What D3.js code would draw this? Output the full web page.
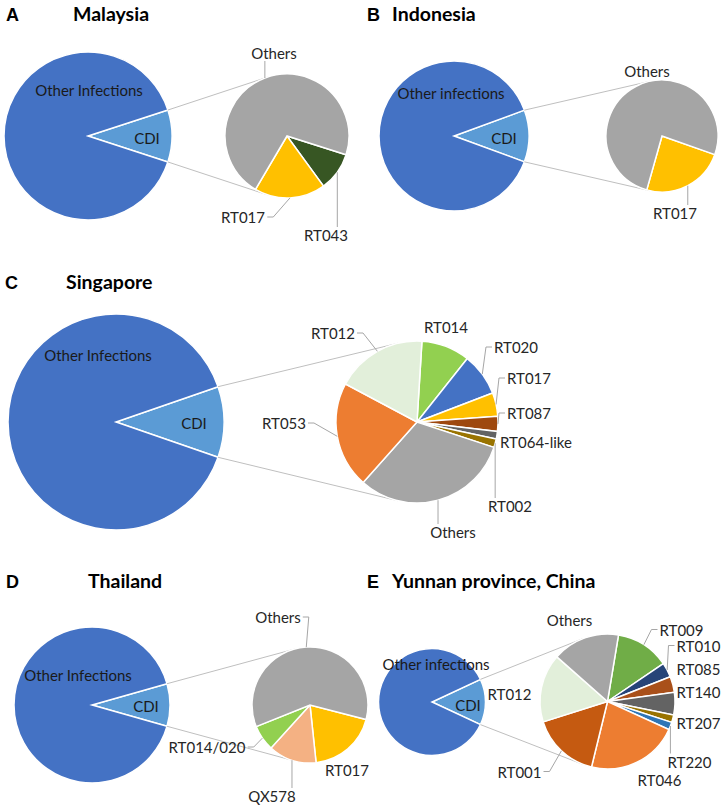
<!DOCTYPE html>
<html><head><meta charset="utf-8">
<script src="https://cdn.jsdelivr.net/npm/d3@7"></script>
<style>body{margin:0;background:#fff} svg{display:block}</style>
</head><body>
<script>
// ---------------- DATA ----------------
const panelLetters = ["A", "B", "C", "D", "E"];
const panelTitles = ["Malaysia", "Indonesia", "Singapore", "Thailand", "Yunnan province, China"];
const otherLabels = ["Other Infections", "Other infections", "Other Infections", "Other Infections", "Other infections"];

// main pie: [CDI share, other infections share] (%)
const malaysiaMain = [10.0, 90.0];
const indonesiaMain = [11.2, 88.8];
const singaporeMain = [10.6, 89.4];
const thailandMain = [8.8, 91.2];
const yunnanMain = [13.9, 86.1];

// ribotype breakdown of CDI (%), clockwise order
const malaysiaTypes = ["RT043", "RT017", "Others"];
const malaysiaValues = [10.1, 18.5, 71.4];
const indonesiaTypes = ["RT017", "Others"];
const indonesiaValues = [24.0, 76.0];
const singaporeTypes = ["RT014", "RT020", "RT017", "RT087", "RT064-like", "RT002", "Others", "RT053", "RT012"];
const singaporeValues = [9.7, 8.5, 4.7, 3.0, 1.5, 1.7, 31.5, 21.2, 18.2];
const thailandTypes = ["RT017", "QX578", "RT014/020", "Others"];
const thailandValues = [19.3, 13.4, 7.2, 60.1];
const yunnanTypes = ["RT009", "RT010", "RT085", "RT140", "RT207", "RT220", "RT046", "RT001", "RT012", "Others"];
const yunnanValues = [12.9, 3.5, 3.8, 5.4, 1.8, 1.8, 22.0, 16.3, 16.4, 16.1];

// ---------------- STYLES ----------------
const mainColors = {CDI: "#5B9BD5", Other: "#4472C4"};
const typeColors = {
  "Others": "#A5A5A5", "RT017": "#FFC000", "RT043": "#375623",
  "RT014": "#92D050", "RT020": "#4472C4", "RT087": "#9E480E", "RT064-like": "#636363",
  "RT002": "#997300", "RT053": "#ED7D31", "RT012": "#E2EFDA",
  "QX578": "#F4B183", "RT014/020": "#92D050",
  "RT009": "#70AD47", "RT010": "#264478", "RT085": "#A9501A", "RT140": "#636363",
  "RT207": "#997300", "RT220": "#2E75B6", "RT046": "#ED7D31", "RT001": "#C55A11"
};

// ---------------- LAYOUT ----------------
const layout = [
  {letterX: 6, titleX: 73, baseY: 20.5, main: [88, 136, 84], sec: [287, 136, 62], rot: 107.6,
   otherLab: [1, -46], cdiLab: [59, 2], lead: [],
   secLab: [[39, 99], [-44, 81], [-13, -83]]},
  {letterX: 367, titleX: 392, baseY: 20.5, main: [454, 136, 75], sec: [662, 136, 56], rot: 109.4,
   otherLab: [-3, -43], cdiLab: [50, 2], lead: [],
   secLab: [[13, 77], [-15, -65]]},
  {letterX: 5, titleX: 66, baseY: 289, main: [116, 422, 108], sec: [417, 422, 81], rot: 3.5,
   otherLab: [-18, -67], cdiLab: [78, 1], lead: [3],
   secLab: [[29, -95], [99, -75], [112, -44], [112, -9], [119, 20], [93, 84], [36, 110], [-133, 1], [-84, -89]]},
  {letterX: 6, titleX: 88, baseY: 588, main: [92, 705, 78], sec: [310, 705, 58], rot: 104.5,
   otherLab: [-14, -30], cdiLab: [54, 1], lead: [],
   secLab: [[37, 65], [-38, 91], [-103, 42], [-32, -88]]},
  {letterX: 367, titleX: 392, baseY: 588, main: [432, 702, 53.5], sec: [607.5, 701.5, 67.5], rot: 9.4,
   otherLab: [4, -38], cdiLab: [36, 3], lead: [],
   secLab: [[74, -72], [91, -56], [91, -33], [91, -10], [91, 21], [82, 60], [52, 78], [-88, 70], [-98, -8], [-38, -82]]}
];

const mains = [malaysiaMain, indonesiaMain, singaporeMain, thailandMain, yunnanMain];
const typeNames = [malaysiaTypes, indonesiaTypes, singaporeTypes, thailandTypes, yunnanTypes];
const typeValues = [malaysiaValues, indonesiaValues, singaporeValues, thailandValues, yunnanValues];

const W = 725, H = 805;
const labelFont = "Lato, 'Open Sans', sans-serif";
const labelSize = 15;
const svg = d3.select("body").append("svg").attr("width", W).attr("height", H)
  .style("background", "#fff");

function tangent(P, C, r, side) {
  const dx = C[0] - P[0], dy = C[1] - P[1];
  const d = Math.hypot(dx, dy);
  const base = Math.atan2(dy, dx);
  const alpha = Math.asin(r / d);
  const L = Math.sqrt(d * d - r * r);
  const dir = base + side * alpha;
  return [P[0] + L * Math.cos(dir), P[1] + L * Math.sin(dir)];
}
const polar = (cx, cy, r, a) => [cx + r * Math.sin(a), cy - r * Math.cos(a)];

layout.forEach((L, i) => {
  const g = svg.append("g");
  // titles
  g.append("text").attr("x", L.letterX).attr("y", L.baseY)
    .attr("font-family", "'Liberation Sans', Arial, sans-serif").attr("font-weight", "bold")
    .attr("font-size", 18).attr("fill", "#000").text(panelLetters[i]);
  g.append("text").attr("x", L.titleX).attr("y", L.baseY)
    .attr("font-family", labelFont).attr("font-weight", "bold")
    .attr("font-size", 19.5).attr("fill", "#000").text(panelTitles[i]);

  // main pie
  const [mcx, mcy, mr] = L.main;
  const share = mains[i][0] / d3.sum(mains[i]);
  const start = Math.PI / 2 - Math.PI * share;
  const mainData = [{k: "CDI", v: mains[i][0]}, {k: "Other", v: mains[i][1]}];
  const mainPie = d3.pie().sort(null).value(d => d.v).startAngle(start).endAngle(start + 2 * Math.PI);
  const mainArc = d3.arc().innerRadius(0).outerRadius(mr);
  const mainArcs = mainPie(mainData);
  g.append("g").attr("transform", `translate(${mcx},${mcy})`)
    .selectAll("path").data(mainArcs).join("path")
    .attr("d", mainArc).attr("fill", d => mainColors[d.data.k])
    .attr("stroke", "#fff").attr("stroke-width", 1.5);

  // connectors
  const [scx, scy, sr] = L.sec;
  const cdi = mainArcs[0];
  const pUp = polar(mcx, mcy, mr, cdi.startAngle);
  const pDn = polar(mcx, mcy, mr, cdi.endAngle);
  const tUp = tangent(pUp, [scx, scy], sr, -1);
  const tDn = tangent(pDn, [scx, scy], sr, 1);
  [[pUp, tUp], [pDn, tDn]].forEach(([a, b]) => {
    g.append("line").attr("x1", a[0]).attr("y1", a[1]).attr("x2", b[0]).attr("y2", b[1])
      .attr("stroke", "#BFBFBF").attr("stroke-width", 1);
  });

  // main labels
  g.append("text").attr("x", mcx + L.otherLab[0]).attr("y", mcy + L.otherLab[1])
    .attr("text-anchor", "middle").attr("dominant-baseline", "central")
    .attr("font-family", labelFont).attr("font-size", labelSize).attr("fill", "#1a1a1a").text(otherLabels[i]);
  g.append("text").attr("x", mcx + L.cdiLab[0]).attr("y", mcy + L.cdiLab[1])
    .attr("text-anchor", "middle").attr("dominant-baseline", "central")
    .attr("font-family", labelFont).attr("font-size", labelSize).attr("fill", "#1a1a1a").text("CDI");

  // secondary pie
  const rot = L.rot * Math.PI / 180;
  const secData = typeNames[i].map((n, j) => ({k: n, v: typeValues[i][j]}));
  const secPie = d3.pie().sort(null).value(d => d.v).startAngle(rot).endAngle(rot + 2 * Math.PI);
  const secArc = d3.arc().innerRadius(0).outerRadius(sr);
  const secArcs = secPie(secData);
  g.append("g").attr("transform", `translate(${scx},${scy})`)
    .selectAll("path").data(secArcs).join("path")
    .attr("d", secArc).attr("fill", d => typeColors[d.data.k])
    .attr("stroke", "#fff").attr("stroke-width", 1.5);

  // secondary labels + leaders
  const lg = g.append("g");
  secArcs.forEach((a, j) => {
    const off = L.secLab[j];
    const t = lg.append("text").attr("x", scx + off[0]).attr("y", scy + off[1])
      .attr("text-anchor", "middle").attr("dominant-baseline", "central")
      .attr("font-family", labelFont).attr("font-size", labelSize).attr("fill", "#262626")
      .text(a.data.k);
    const bb = t.node().getBBox();
    const mid = (a.startAngle + a.endAngle) / 2;
    const ap = polar(scx, scy, sr, mid);
    const x0 = bb.x - 2, x1 = bb.x + bb.width + 2, y0 = bb.y + 1, y1 = bb.y + bb.height - 1;
    const cy = bb.y + bb.height / 2;
    let pts;
    if (ap[0] < x0) pts = [[x0, cy], [x0 - 6, cy], ap];
    else if (ap[0] > x1) pts = [[x1, cy], [x1 + 6, cy], ap];
    else {
      const yy = ap[1] < y0 ? y0 : y1;
      pts = [[ap[0], yy], ap];
    }
    const end = pts[0];
    const dist = Math.hypot(ap[0] - end[0], ap[1] - end[1]);
    if (dist > 16 || L.lead.includes(j)) {
      lg.append("path").attr("d", d3.line()(pts)).attr("fill", "none")
        .attr("stroke", "#A6A6A6").attr("stroke-width", 1);
    }
  });
});
</script>
</body></html>
